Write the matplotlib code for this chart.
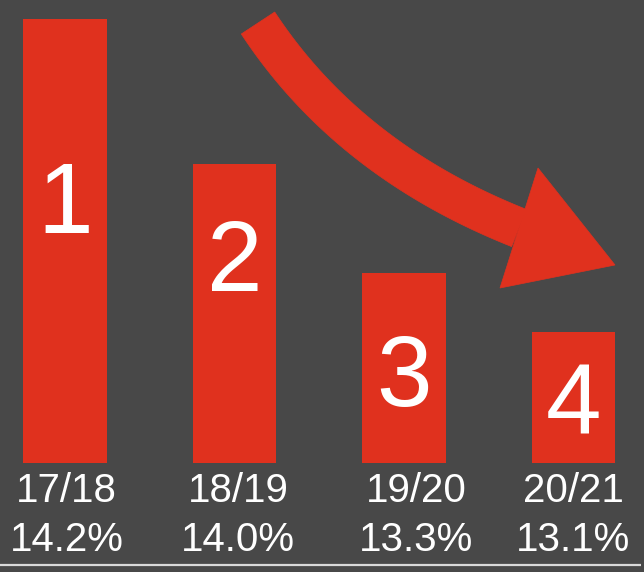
import numpy as np
import matplotlib.pyplot as plt
from matplotlib.patches import Polygon

# ── Data ───────────────────────────────────────────────────────────────────────
seasons   = ["17/18", "18/19", "19/20", "20/21"]
rates     = ["14.2%", "14.0%", "13.3%", "13.1%"]
ranks     = ["1", "2", "3", "4"]
heights   = [444, 299, 190, 131]      # visual bar height (stepped, not to scale)

# ── Styling ────────────────────────────────────────────────────────────────────
BG        = "#484848"
RED       = "#e0311e"
WHITE     = "#ffffff"
FONT      = "Liberation Sans"
W, H      = 644, 572                  # canvas size in px

rank_base  = [230, 172, 57, 29]       # baseline of the big digit inside each bar
label_dx   = [0.01, 0.02, 0.07, 0.0]  # small nudge of the text under each bar

plt.rcParams['font.family'] = [FONT, 'DejaVu Sans']

fig = plt.figure(figsize=(W / 100, H / 100), dpi=100, facecolor=BG)
ax = fig.add_axes([0, 0, 1, 1], facecolor=BG)

x = np.arange(len(seasons))
ax.bar(x, heights, width=0.495, color=RED, linewidth=0)

ax.set_xlim(-0.3835, 3.416)
ax.set_ylim(-109, 463)
ax.axis("off")

for i in range(len(seasons)):
    ax.text(x[i], rank_base[i], ranks[i], color=WHITE, fontsize=72,
            ha="center", va="baseline")
    ax.text(x[i] + label_dx[i], -28.5, seasons[i], color=WHITE, fontsize=29,
            ha="center", va="center")
    ax.text(x[i] + label_dx[i], -77, rates[i], color=WHITE, fontsize=29,
            ha="center", va="center")

# thin rule along the bottom
ax.plot([0.0, 0.995], [1 - 565 / H] * 2, transform=ax.transAxes,
        color="#d9d9d9", lw=1.6, solid_capstyle="butt")


# ── Curved trend arrow (built in px, top-left origin) ─────────────────────────
def to_axes(pts):
    pts = np.asarray(pts, dtype=float)
    return np.column_stack([pts[:, 0] / W, 1 - pts[:, 1] / H])

p0   = np.array([258.0, 23.0])    # tail centre
ctrl = np.array([348.0, 160.0])   # bezier control point
p1   = np.array([519.0, 228.0])   # where shaft meets the head
half = 20.0                       # half shaft width

t = np.linspace(0, 1, 60)[:, None]
centre = (1 - t) ** 2 * p0 + 2 * (1 - t) * t * ctrl + t ** 2 * p1
deriv = 2 * (1 - t) * (ctrl - p0) + 2 * t * (p1 - ctrl)
normal = np.column_stack([-deriv[:, 1], deriv[:, 0]])
normal /= np.linalg.norm(normal, axis=1)[:, None]
shaft = np.vstack([centre + half * normal, (centre - half * normal)[::-1]])

head = [(538, 168), (615, 265), (500, 288)]

ax.add_patch(Polygon(to_axes(shaft), closed=True, transform=ax.transAxes,
                     facecolor=RED, edgecolor=RED, lw=0.5))
ax.add_patch(Polygon(to_axes(head), closed=True, transform=ax.transAxes,
                     facecolor=RED, edgecolor=RED, lw=0.5))

plt.savefig("out.png", dpi=100, facecolor=BG)
